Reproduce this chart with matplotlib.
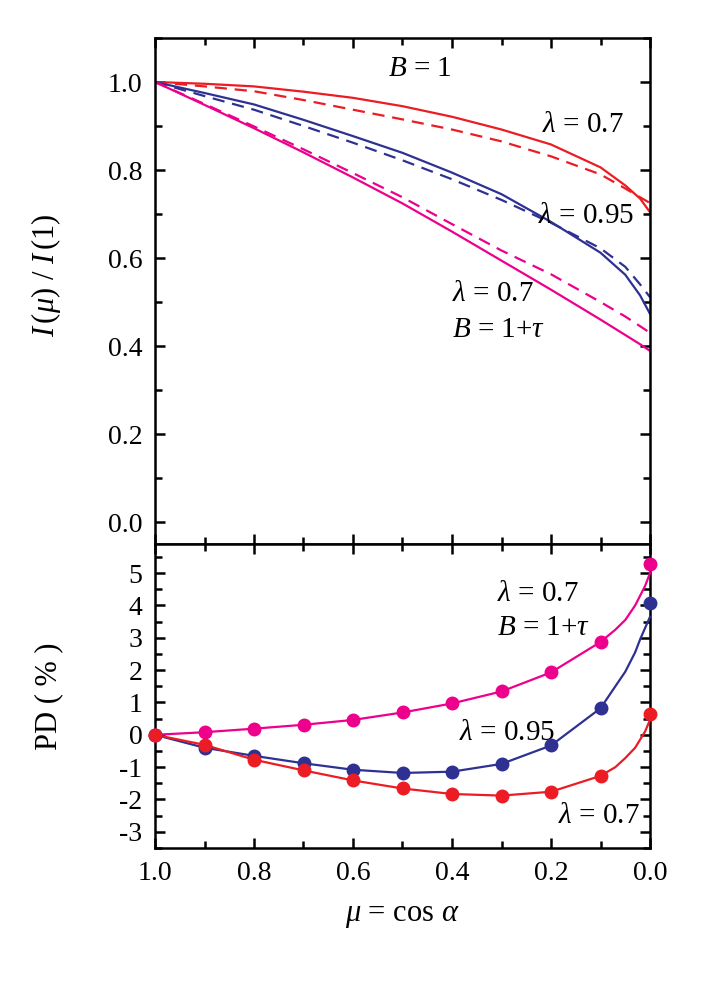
import matplotlib
matplotlib.use('Agg')
import matplotlib.pyplot as plt
from matplotlib.ticker import MultipleLocator

plt.rcParams['font.family'] = 'Liberation Serif'
plt.rcParams['mathtext.fontset'] = 'custom'
plt.rcParams['mathtext.rm'] = 'Liberation Serif'
plt.rcParams['mathtext.it'] = 'Liberation Serif:italic'
plt.rcParams['mathtext.bf'] = 'Liberation Serif:bold'
plt.rcParams['axes.unicode_minus'] = False

RED = '#ec1c24'
BLUE = '#2e3192'
PINK = '#ec008c'

# top panel: I(mu)/I(1), solid and dashed curves
mu_top = [1.0, 0.9, 0.8, 0.7, 0.6, 0.5, 0.4, 0.3, 0.2, 0.1, 0.05, 0.02, 0.0]
red_solid = [1.0, 0.996, 0.990, 0.978, 0.964, 0.945, 0.921, 0.892, 0.858, 0.806, 0.765, 0.735, 0.704]
red_dash = [1.0, 0.990, 0.979, 0.959, 0.937, 0.915, 0.892, 0.865, 0.831, 0.790, 0.758, 0.738, 0.725]
blue_solid = [1.0, 0.975, 0.949, 0.914, 0.877, 0.839, 0.794, 0.745, 0.682, 0.612, 0.562, 0.515, 0.473]
blue_dash = [1.0, 0.968, 0.937, 0.900, 0.862, 0.822, 0.779, 0.732, 0.680, 0.622, 0.580, 0.540, 0.511]
pink_solid = [1.0, 0.948, 0.895, 0.840, 0.783, 0.724, 0.660, 0.594, 0.528, 0.460, 0.425, 0.404, 0.389]
pink_dash = [1.0, 0.950, 0.899, 0.847, 0.793, 0.738, 0.677, 0.617, 0.563, 0.500, 0.467, 0.445, 0.430]

# bottom panel: PD (%) markers
mu_pts = [1.0, 0.9, 0.8, 0.7, 0.6, 0.5, 0.4, 0.3, 0.2, 0.1, 0.0]
pd_pink_pts = [0.0, 0.08, 0.19, 0.31, 0.46, 0.69, 0.97, 1.34, 1.93, 2.87, 5.27]
pd_blue_pts = [0.0, -0.40, -0.65, -0.88, -1.08, -1.18, -1.14, -0.90, -0.33, 0.82, 4.07]
pd_red_pts = [0.0, -0.31, -0.77, -1.10, -1.41, -1.66, -1.83, -1.88, -1.76, -1.27, 0.65]

# bottom panel: PD (%) lines
mu_line = [1.0, 0.9, 0.8, 0.7, 0.6, 0.5, 0.4, 0.3, 0.2, 0.1, 0.07, 0.05, 0.03, 0.02, 0.01, 0.0]
pd_pink_line = [0.0, 0.08, 0.19, 0.31, 0.46, 0.69, 0.97, 1.34, 1.93, 2.87, 3.25, 3.55, 4.0, 4.3, 4.6, 5.0]
pd_blue_line = [0.0, -0.40, -0.65, -0.88, -1.08, -1.18, -1.14, -0.90, -0.33, 0.82, 1.5, 1.95, 2.55, 2.95, 3.3, 3.65]
pd_red_line = [0.0, -0.31, -0.77, -1.10, -1.41, -1.66, -1.83, -1.88, -1.76, -1.27, -1.0, -0.72, -0.4, -0.15, 0.1, 0.46]

W, H = 706, 985
fig = plt.figure(figsize=(W / 100, H / 100), dpi=100)
ax1 = fig.add_axes([155 / W, 1 - 544 / H, 495 / W, 506 / H])
ax2 = fig.add_axes([155 / W, 1 - 848 / H, 495 / W, 304 / H], sharex=ax1)

lw = 1.6
dash = (0, (5.5, 3.5))
ax1.plot(mu_top, red_solid, color=RED, lw=lw)
ax1.plot(mu_top, red_dash, color=RED, lw=lw, linestyle=dash)
ax1.plot(mu_top, blue_solid, color=BLUE, lw=lw)
ax1.plot(mu_top, blue_dash, color=BLUE, lw=lw, linestyle=dash)
ax1.plot(mu_top, pink_solid, color=PINK, lw=lw)
ax1.plot(mu_top, pink_dash, color=PINK, lw=lw, linestyle=dash)

for line, pts, c in [(pd_pink_line, pd_pink_pts, PINK),
                     (pd_blue_line, pd_blue_pts, BLUE),
                     (pd_red_line, pd_red_pts, RED)]:
    ax2.plot(mu_line, line, color=c, lw=lw, clip_on=False, zorder=3)
    ax2.plot(mu_pts, pts, 'o', color=c, ms=9, clip_on=False, zorder=4)

ax1.set_xlim(1.0, 0.0)
ax1.set_ylim(-0.05, 1.1)
ax2.set_ylim(-3.5, 5.9)

fs_tick = 20
for ax in (ax1, ax2):
    for s in ax.spines.values():
        s.set_linewidth(1.8)
    ax.tick_params(which='both', direction='in', top=True, right=True, width=1.8,
                   labelsize=fs_tick, pad=9)
    ax.tick_params(which='major', length=7.5)
    ax.tick_params(which='minor', length=5)
    ax.xaxis.set_major_locator(MultipleLocator(0.2))
    ax.xaxis.set_minor_locator(MultipleLocator(0.1))

ax1.yaxis.set_major_locator(MultipleLocator(0.2))
ax1.yaxis.set_minor_locator(MultipleLocator(0.1))
ax1.yaxis.set_major_formatter(plt.FuncFormatter(lambda v, p: f'{v:.1f}'))
ax1.tick_params(labelbottom=False)
ax2.yaxis.set_major_locator(MultipleLocator(1))
ax2.yaxis.set_minor_locator(MultipleLocator(0.5))
ax2.xaxis.set_major_formatter(plt.FuncFormatter(lambda v, p: f'{v:.1f}'))
ax2.yaxis.set_major_formatter(plt.FuncFormatter(lambda v, p: f'{int(round(v))}'))

ax1.set_ylabel(r'$I\,(\mu)$ / $I\,(1)$', fontsize=22)
ax1.yaxis.set_label_coords(-0.185, 0.53)
ax2.set_ylabel('PD ( % )', fontsize=22)
ax2.yaxis.set_label_coords(-0.185, 0.5)
ax2.set_xlabel(r'$\mu$ = cos $\alpha$', fontsize=22, labelpad=11)

fs = 21
ax1.text(0.465, 1.03, r'$B$ = 1', fontsize=fs, ha='center', va='center')
ax1.text(0.135, 0.903, r'$\lambda$ = 0.7', fontsize=fs, ha='center', va='center')
ax1.text(0.13, 0.695, r'$\lambda$ = 0.95', fontsize=fs, ha='center', va='center')
ax1.text(0.40, 0.518, r'$\lambda$ = 0.7', fontsize=fs, ha='left', va='center')
ax1.text(0.40, 0.436, r'$B$ = 1+$\tau$', fontsize=fs, ha='left', va='center')

ax2.text(0.31, 4.35, r'$\lambda$ = 0.7', fontsize=fs, ha='left', va='center')
ax2.text(0.31, 3.3, r'$B$ = 1+$\tau$', fontsize=fs, ha='left', va='center')
ax2.text(0.385, 0.05, r'$\lambda$ = 0.95', fontsize=fs, ha='left', va='center')
ax2.text(0.02, -2.5, r'$\lambda$ = 0.7', fontsize=fs, ha='right', va='center')

fig.savefig('out.png', dpi=100)
